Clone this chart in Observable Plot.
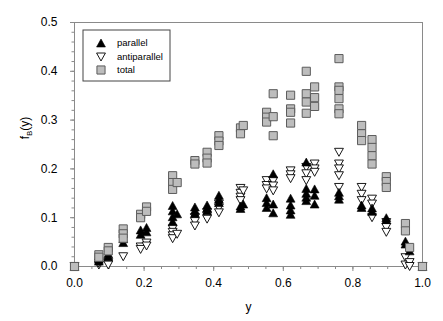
<!DOCTYPE html>
<html>
<head>
<meta charset="utf-8">
<script src="https://cdn.jsdelivr.net/npm/d3@7"></script>
<script src="https://cdn.jsdelivr.net/npm/@observablehq/plot@0.6"></script>
<style>
  html, body { margin: 0; padding: 0; background: white; }
  #chart { width: 443px; height: 321px; }
</style>
</head>
<body>
<div id="chart"></div>
<script>
// ---- data ----
const parallelX = [0, 0.07,0.07, 0.097,0.097, 0.14,0.14, 0.19,0.19, 0.207,0.207,
  0.282,0.282,0.282,0.282, 0.295, 0.346,0.346,0.346, 0.381,0.381,0.381, 0.415,0.415,0.415,
  0.477,0.477, 0.485, 0.552,0.552,0.552, 0.571,0.571,0.571, 0.621,0.621,0.621,0.621,
  0.666,0.666,0.666,0.666,0.666, 0.69,0.69,0.69, 0.76,0.76,0.76, 0.825,0.825, 0.855,0.855,
  0.896,0.896, 0.951,0.951, 0.963, 1.0];
const parallelY = [0, 0.015,0.011, 0.026,0.02, 0.057,0.049, 0.075,0.066, 0.08,0.071,
  0.125,0.114,0.102,0.092, 0.108, 0.122,0.115,0.109, 0.126,0.12,0.114, 0.146,0.138,0.131,
  0.124,0.119, 0.128, 0.141,0.131,0.121, 0.19,0.128,0.11, 0.14,0.126,0.116,0.107,
  0.214,0.16,0.15,0.142,0.135, 0.159,0.146,0.128, 0.152,0.145,0.138, 0.126,0.121, 0.12,0.113,
  0.1,0.096, 0.052,0.046, 0.032, 0];

const antiparallelX = [0, 0.07,0.07, 0.097,0.097, 0.14, 0.19,0.19, 0.207,0.207,
  0.282,0.282,0.282,0.282, 0.295, 0.346,0.346,0.346, 0.381,0.381,0.381, 0.415,0.415,0.415,
  0.477,0.477,0.477,0.477, 0.485, 0.552,0.552,0.552, 0.571,0.571,0.571, 0.621,0.621,0.621,
  0.666,0.666,0.666, 0.69,0.69,0.69, 0.76,0.76,0.76,0.76,0.76, 0.825,0.825,0.825,
  0.855,0.855,0.855, 0.896,0.896,0.896, 0.951,0.951, 0.963,0.963, 1.0];
const antiparallelY = [0, 0.003,0.007, 0.008,0.003, 0.02, 0.04,0.035, 0.048,0.042,
  0.077,0.07,0.063,0.057, 0.066, 0.1,0.092,0.083, 0.11,0.103,0.097, 0.128,0.12,0.11,
  0.16,0.15,0.142,0.135, 0.155, 0.176,0.166,0.159, 0.175,0.165,0.155, 0.196,0.188,0.18,
  0.203,0.19,0.176, 0.21,0.2,0.193, 0.234,0.21,0.2,0.186,0.162, 0.162,0.148,0.135,
  0.138,0.128,0.1, 0.09,0.08,0.07, 0.018,0.003, 0.008,0.0, 0];

const totalX = [0, 0.07,0.07, 0.097,0.097, 0.14,0.14,0.14, 0.19,0.19, 0.207,0.207,
  0.282,0.282,0.282, 0.295, 0.346,0.346, 0.381,0.381,0.381, 0.415,0.415,0.415,
  0.477,0.477, 0.485, 0.552,0.552,0.552, 0.571,0.571,0.571, 0.621,0.621,0.621,0.621,
  0.666,0.666,0.666,0.666, 0.69,0.69,0.69, 0.76,0.76,0.76,0.76,0.76,0.76,
  0.825,0.825,0.825, 0.855,0.855,0.855,0.855, 0.896,0.896,0.896, 0.951,0.951, 0.963, 1.0];
const totalY = [0, 0.024,0.019, 0.039,0.032, 0.077,0.067,0.058, 0.107,0.1, 0.122,0.113,
  0.186,0.172,0.158, 0.172, 0.217,0.21, 0.234,0.222,0.212, 0.268,0.257,0.248,
  0.284,0.272, 0.289, 0.316,0.306,0.296, 0.354,0.307,0.268, 0.351,0.323,0.316,0.294,
  0.40,0.354,0.337,0.314, 0.368,0.346,0.328, 0.426,0.368,0.361,0.344,0.323,0.313,
  0.289,0.272,0.258, 0.26,0.244,0.227,0.21, 0.184,0.174,0.162, 0.088,0.073, 0.039, 0];

const xTicks = [0, 0.2, 0.4, 0.6, 0.8, 1.0];
const yTicks = [0, 0.1, 0.2, 0.3, 0.4, 0.5];
const seriesNames = ["parallel", "antiparallel", "total"];

// ---- build tables ----
const zip = (xs, ys) => xs.map((x, i) => ({x, y: ys[i]}));
const parallel = zip(parallelX, parallelY);
const antiparallel = zip(antiparallelX, antiparallelY);
const total = zip(totalX, totalY);

const xMinor = d3.range(0, 1.0001, 0.05);
const yMinor = d3.range(0, 0.5001, 0.02);

// custom symbols
const triUp = {draw(ctx, size) { const s = Math.sqrt(size); const w = s / 2, h = s * 0.45;
  ctx.moveTo(0, -h); ctx.lineTo(w, h); ctx.lineTo(-w, h); ctx.closePath(); }};
const triDown = {draw(ctx, size) { const s = Math.sqrt(size); const w = s / 2, h = s * 0.45;
  ctx.moveTo(0, h); ctx.lineTo(w, -h); ctx.lineTo(-w, -h); ctx.closePath(); }};

const axisGray = "#8a8a8a";
const fmt = d => d.toFixed(1);

const svg = Plot.plot({
  width: 443, height: 321,
  marginLeft: 74, marginRight: 21, marginTop: 22, marginBottom: 55,
  style: {fontFamily: "'Liberation Sans', Arial, sans-serif", fontSize: "12px", background: "white", color: "black"},
  x: {domain: [0, 1], label: null},
  y: {domain: [0, 0.5], label: null},
  marks: [
    Plot.frame({stroke: axisGray}),
    Plot.axisX({ticks: xMinor, tickSize: 3, text: null, stroke: axisGray, label: null}),
    Plot.axisX({ticks: xTicks, tickSize: 5, text: null, stroke: axisGray, label: null}),
    Plot.axisX({ticks: xTicks, tickSize: 0, tickPadding: 12, tickFormat: fmt, label: null}),
    Plot.axisY({ticks: yMinor, tickSize: 2.5, text: null, stroke: axisGray, label: null}),
    Plot.axisY({ticks: yTicks, tickSize: 4, text: null, stroke: axisGray, label: null}),
    Plot.axisY({ticks: yTicks, tickSize: 0, tickPadding: 17, tickFormat: fmt, label: null}),
    Plot.text(["y"], {text: d => d, frameAnchor: "bottom", dy: 44, fontSize: 12}),
    Plot.dot(antiparallel, {x: "x", y: "y", symbol: triDown, r: 5, fill: "white", stroke: "black", strokeWidth: 0.9}),
    Plot.dot(parallel, {x: "x", y: "y", symbol: triUp, r: 5, fill: "black", stroke: "black", strokeWidth: 0.6}),
    Plot.dot(total, {x: "x", y: "y", symbol: "square", r: 4.6, fill: "#bdbdbd", stroke: "#5c5c5c", strokeWidth: 1})
  ]
});

// y-axis label with subscript
const s = d3.select(svg);
const yl = s.append("text")
  .attr("transform", "translate(29,128) rotate(-90)")
  .attr("text-anchor", "middle")
  .attr("font-size", 12)
  .attr("fill", "black");
yl.append("tspan").text("f");
yl.append("tspan").attr("font-size", 8).attr("dy", 3).text("B");
yl.append("tspan").attr("dy", -3).text("(y)");

// legend
const lg = s.append("g").attr("text-anchor", "start");
lg.append("rect").attr("x", 83).attr("y", 30).attr("width", 87).attr("height", 51)
  .attr("fill", "white").attr("stroke", "#444").attr("stroke-width", 1);
const legendStyle = [
  {type: triUp, size: 78.5, fill: "black", stroke: "black", sw: 0.6},
  {type: triDown, size: 78.5, fill: "white", stroke: "black", sw: 0.9},
  {type: d3.symbolSquare, size: 66, fill: "#bdbdbd", stroke: "#5c5c5c", sw: 1}
];
const rowY = [43, 57, 70];
seriesNames.forEach((name, i) => {
  const st = legendStyle[i];
  lg.append("path").attr("d", d3.symbol(st.type, st.size)())
    .attr("transform", `translate(101,${rowY[i]})`)
    .attr("fill", st.fill).attr("stroke", st.stroke).attr("stroke-width", st.sw);
  lg.append("text").attr("x", 117).attr("y", rowY[i]).attr("dy", "0.35em")
    .attr("text-anchor", "start")
    .attr("font-size", 9.5).attr("fill", "black").text(name);
});

document.getElementById("chart").appendChild(svg);
</script>
</body>
</html>
